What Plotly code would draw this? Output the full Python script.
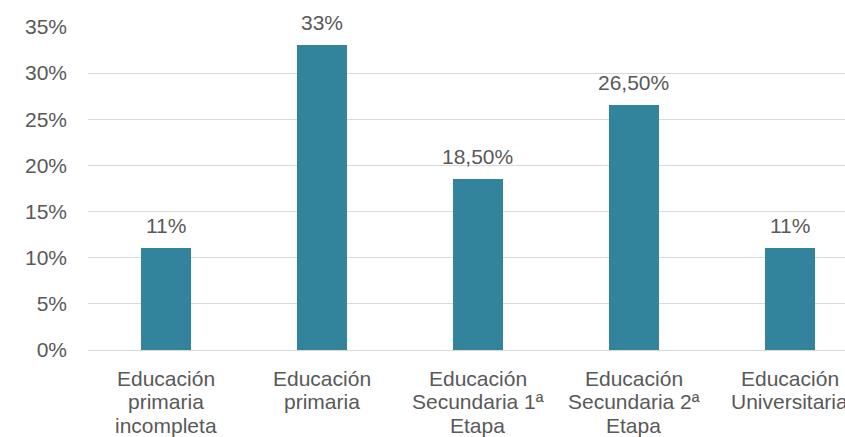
import plotly.graph_objects as go

categories = ["Educación<br>primaria<br>incompleta", "Educación<br>primaria",
              "Educación<br>Secundaria 1ª<br>Etapa", "Educación<br>Secundaria 2ª<br>Etapa",
              "Educación<br>Universitaria"]
values = [0.11, 0.33, 0.185, 0.265, 0.11]
value_labels = ["11%", "33%", "18,50%", "26,50%", "11%"]
tick_vals = [0, 0.05, 0.10, 0.15, 0.20, 0.25, 0.30, 0.35]
tick_text = ["0%", "5%", "10%", "15%", "20%", "25%", "30%", "35%"]

FONT = "Liberation Sans, Arial, sans-serif"
GREY = "#595959"
FS = 21

x = list(range(len(categories)))
fig = go.Figure(go.Bar(x=x, y=values, width=0.315,
                       marker=dict(color="#31849B", line=dict(width=0))))

annotations = []
# value labels above bars
for xi, v, lab in zip(x, values, value_labels):
    annotations.append(dict(x=xi, y=v, xref="x", yref="y", text=lab, showarrow=False,
                            yanchor="bottom", yshift=9,
                            font=dict(size=FS, color=GREY, family=FONT)))
# category labels, line by line (tighter line spacing than plotly's default)
for xi, cat in zip(x, categories):
    for k, line in enumerate(cat.split("<br>")):
        annotations.append(dict(x=xi, y=0, xref="x", yref="y", text=line, showarrow=False,
                                yanchor="middle", yshift=-28 - 23.5 * k,
                                font=dict(size=FS, color=GREY, family=FONT)))

fig.update_layout(
    width=845, height=437,
    margin=dict(l=88, r=0, t=27, b=87),
    paper_bgcolor="white", plot_bgcolor="white",
    showlegend=False,
    font=dict(family=FONT, size=FS, color=GREY),
    annotations=annotations,
    xaxis=dict(tickmode="array", tickvals=x, showticklabels=False, range=[-0.5, 4.353],
               showgrid=False, showline=False, ticks="", zeroline=False),
    yaxis=dict(tickmode="array", tickvals=tick_vals, ticktext=tick_text, range=[0, 0.35],
               showgrid=True, gridcolor="#D9D9D9", gridwidth=1, zeroline=True,
               zerolinecolor="#D9D9D9", zerolinewidth=1, showline=False, ticks="",
               ticklabelstandoff=20, tickfont=dict(size=FS, color=GREY, family=FONT)),
    bargap=0,
)
fig.write_html("out.html", config={"displayModeBar": False},
               post_script="document.body.style.margin='0';document.body.style.overflow='hidden';")
